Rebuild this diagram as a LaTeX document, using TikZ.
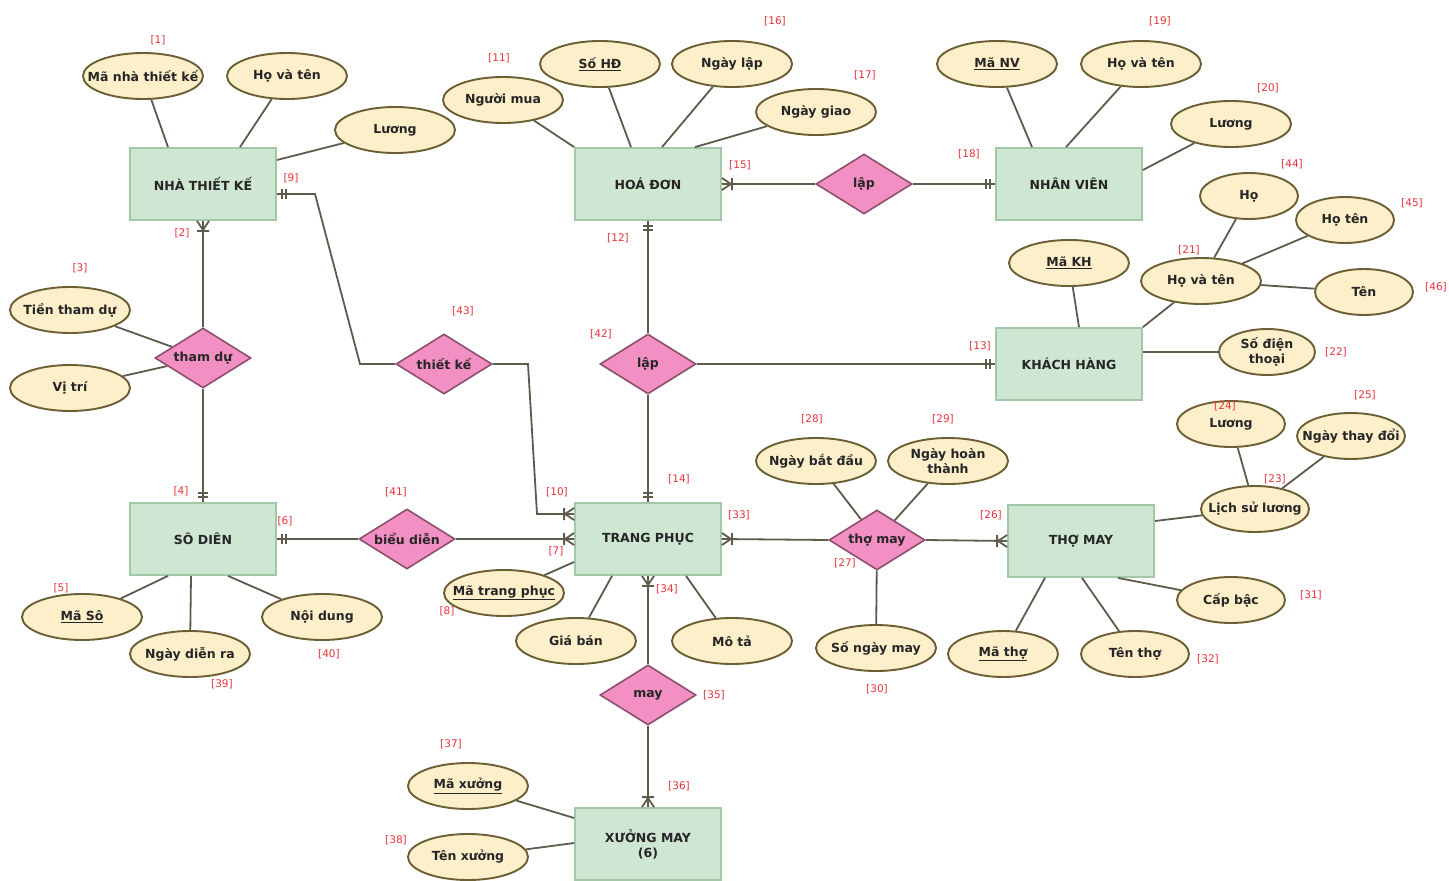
\documentclass[tikz,border=0pt]{standalone}
\usepackage{fontspec}
\setmainfont{DejaVu Sans}
\usetikzlibrary{shapes.geometric,calc}
\definecolor{entfill}{HTML}{CFE6D3}
\definecolor{entdraw}{HTML}{A3C8A8}
\definecolor{relfill}{HTML}{F28FC3}
\definecolor{reldraw}{HTML}{8E4F6C}
\definecolor{attfill}{HTML}{FCEFCA}
\definecolor{attdraw}{HTML}{6B5F33}
\definecolor{linec}{HTML}{5F5B4C}
\definecolor{numc}{HTML}{E8333C}
\newcommand{\mbz}[1]{\makebox[0pt]{#1}}
\begin{document}
\begin{tikzpicture}[x=1pt,y=-1pt,
 ent/.style={draw=entdraw, fill=entfill, line width=1.8pt, minimum width=146pt, minimum height=72pt, inner sep=0, align=center, font=\fontsize{12.5}{15}\selectfont\bfseries, text=black!85},
 rel/.style={diamond, draw=reldraw, fill=relfill, line width=1.6pt, minimum width=96pt, minimum height=60pt, inner sep=0, font=\fontsize{12.5}{15}\selectfont\bfseries, text=black!85},
 att/.style={ellipse, draw=attdraw, fill=attfill, line width=1.9pt, minimum width=120pt, minimum height=46pt, inner sep=0, align=center, font=\fontsize{12.5}{15}\selectfont\bfseries, text=black!85},
 num/.style={font=\fontsize{10.5}{12}\selectfont, text=numc, inner sep=0},
 conn/.style={draw=linec, line width=1.8pt},
 pics/oneone/.style={code={\draw[conn] (5,-5)--(5,5) (9,-5)--(9,5);}},
 pics/onemany/.style={code={\draw[conn] (0,-6)--(9,0)--(0,6) (10,-6)--(10,6);}},
]
\useasboundingbox (0,0) rectangle (1449,881);
\fill[white] (0,0) rectangle (1449,881);

% entities
\node[ent] (ntk) at (203,184) {\mbz{NHÀ THIẾT KẾ}};
\node[ent] (hd) at (648,184) {\mbz{HOÁ ĐƠN}};
\node[ent] (nv) at (1069,184) {\mbz{NHÂN VIÊN}};
\node[ent] (kh) at (1069,364) {\mbz{KHÁCH HÀNG}};
\node[ent] (sd) at (203,539) {\mbz{SÔ DIÊN}};
\node[ent] (tp) at (648,539) {\mbz{TRANG PHỤC}};
\node[ent] (tm) at (1081,541) {\mbz{THỢ MAY}};
\node[ent] (xm) at (648,844) {\mbz{XƯỞNG MAY}\\\mbz{(6)}};

% relationships
\node[rel] (rtd) at (203,358) {\mbz{tham dự}};
\node[rel] (rtk) at (444,364) {\mbz{thiết kế}};
\node[rel] (rlapa) at (864,184) {\mbz{lập}};
\node[rel] (rlapb) at (648,364) {\mbz{lập}};
\node[rel] (rbd) at (407,539) {\mbz{biểu diễn}};
\node[rel] (rtm) at (877,540) {\mbz{thợ may}};
\node[rel] (rmay) at (648,695) {\mbz{may}};

% attributes
\node[att] (amntk) at (143,76) {\mbz{Mã nhà thiết kế}};
\node[att] (ahvta) at (287,76) {\mbz{Họ và tên}};
\node[att] (aluonga) at (395,130) {\mbz{Lương}};
\node[att] (anm) at (503,100) {\mbz{Người mua}};
\node[att] (ashd) at (600,64) {\mbz{\underline{Số HĐ}}};
\node[att] (anl) at (732,64) {\mbz{Ngày lập}};
\node[att] (ang) at (816,112) {\mbz{Ngày giao}};
\node[att] (amnv) at (997,64) {\mbz{\underline{Mã NV}}};
\node[att] (ahvtb) at (1141,64) {\mbz{Họ và tên}};
\node[att] (aluongb) at (1231,124) {\mbz{Lương}};
\node[att, minimum width=98pt] (aho) at (1249,196) {\mbz{Họ}};
\node[att, minimum width=98pt] (ahoten) at (1345,220) {\mbz{Họ tên}};
\node[att] (amkh) at (1069,263) {\mbz{\underline{Mã KH}}};
\node[att] (ahvtc) at (1201,281) {\mbz{Họ và tên}};
\node[att, minimum width=98pt] (aten) at (1364,292) {\mbz{Tên}};
\node[att, minimum width=96pt] (asdt) at (1267,352) {\mbz{Số điện}\\\mbz{thoại}};
\node[att, minimum width=108pt] (aluongc) at (1231,424) {\mbz{Lương}};
\node[att, minimum width=108pt] (antd) at (1351,436) {\mbz{Ngày thay đổi}};
\node[att, minimum width=108pt] (alsl) at (1255,509) {\mbz{Lịch sử lương}};
\node[att, minimum width=108pt] (acb) at (1231,600) {\mbz{Cấp bậc}};
\node[att, minimum width=108pt] (att) at (1135,654) {\mbz{Tên thợ}};
\node[att, minimum width=110pt] (amt) at (1003,654) {\mbz{\underline{Mã thợ}}};
\node[att] (asnm) at (876,648) {\mbz{Số ngày may}};
\node[att] (anbd) at (816,461) {\mbz{Ngày bắt đầu}};
\node[att] (anht) at (948,461) {\mbz{Ngày hoàn}\\\mbz{thành}};
\node[att] (amota) at (732,641) {\mbz{Mô tả}};
\node[att] (agb) at (576,641) {\mbz{Giá bán}};
\node[att] (amtp) at (504,593) {\mbz{\underline{Mã trang phục}}};
\node[att] (attd) at (70,310) {\mbz{Tiền tham dự}};
\node[att] (avt) at (70,388) {\mbz{Vị trí}};
\node[att] (amso) at (82,617) {\mbz{\underline{Mã Sô}}};
\node[att] (andr) at (190,654) {\mbz{Ngày diễn ra}};
\node[att] (and) at (322,617) {\mbz{Nội dung}};
\node[att] (amx) at (468,786) {\mbz{\underline{Mã xưởng}}};
\node[att] (atx) at (468,857) {\mbz{Tên xưởng}};

% attribute lines
\draw[conn] (amntk) -- (ntk.north -| 168,0);
\draw[conn] (ahvta) -- (ntk.north -| 240,0);
\draw[conn] (aluonga) -- (ntk.east |- 0,160);
\draw[conn] (anm) -- (hd.north west);
\draw[conn] (ashd) -- (hd.north -| 631,0);
\draw[conn] (anl) -- (hd.north -| 662,0);
\draw[conn] (ang) -- (hd.north -| 695,0);
\draw[conn] (amnv) -- (nv.north -| 1032,0);
\draw[conn] (ahvtb) -- (nv.north -| 1066,0);
\draw[conn] (aluongb) -- (nv.east |- 0,170);
\draw[conn] (amkh) -- (kh.north -| 1079,0);
\draw[conn] (ahvtc) -- (kh.north east);
\draw[conn] (asdt) -- (kh.east |- 0,352);
\draw[conn] (ahvtc) -- (aho);
\draw[conn] (ahvtc) -- (ahoten);
\draw[conn] (ahvtc) -- (aten);
\draw[conn] (alsl) -- (tm.east |- 0,521);
\draw[conn] (alsl) -- (aluongc);
\draw[conn] (alsl) -- (antd);
\draw[conn] (acb) -- (tm.south -| 1118,0);
\draw[conn] (att) -- (tm.south -| 1082,0);
\draw[conn] (amt) -- (tm.south -| 1045,0);
\draw[conn] (rtm) -- (anbd);
\draw[conn] (rtm) -- (anht);
\draw[conn] (rtm) -- (asnm);
\draw[conn] (amtp) -- (tp.west |- 0,562);
\draw[conn] (agb) -- (tp.south -| 612,0);
\draw[conn] (amota) -- (tp.south -| 686,0);
\draw[conn] (rtd) -- (attd);
\draw[conn] (rtd) -- (avt);
\draw[conn] (amso) -- (sd.south -| 168,0);
\draw[conn] (andr) -- (sd.south -| 191,0);
\draw[conn] (and) -- (sd.south -| 228,0);
\draw[conn] (amx) -- (xm.west |- 0,818);
\draw[conn] (atx) -- (xm.west |- 0,843);

% relationship connectors
\draw[conn] (ntk.south) -- (rtd.north);
\draw[conn] (rtd.south) -- (sd.north);
\draw[conn] (ntk.east |- 0,194) -- (315,194) -- (360,364) -- (rtk.west);
\draw[conn] (rtk.east) -- (528,364) -- (537,514) -- (tp.west |- 0,514);
\draw[conn] (sd.east) -- (rbd.west);
\draw[conn] (rbd.east) -- (tp.west);
\draw[conn] (hd.south) -- (rlapb.north);
\draw[conn] (rlapb.south) -- (tp.north);
\draw[conn] (rlapb.east) -- (kh.west);
\draw[conn] (hd.east) -- (rlapa.west);
\draw[conn] (rlapa.east) -- (nv.west);
\draw[conn] (tp.east) -- (rtm.west);
\draw[conn] (rtm.east) -- (tm.west);
\draw[conn] (tp.south) -- (rmay.north);
\draw[conn] (rmay.south) -- (xm.north);

% cardinality marks
\pic[rotate=-90] at (ntk.south) {onemany};
\pic[rotate=90] at (sd.north) {oneone};
\pic at (ntk.east |- 0,194) {oneone};
\pic[rotate=180] at (tp.west |- 0,514) {onemany};
\pic at (sd.east) {oneone};
\pic[rotate=180] at (tp.west) {onemany};
\pic[rotate=-90] at (hd.south) {oneone};
\pic[rotate=90] at (tp.north) {oneone};
\pic[rotate=180] at (kh.west) {oneone};
\pic at (hd.east) {onemany};
\pic[rotate=180] at (nv.west) {oneone};
\pic at (tp.east) {onemany};
\pic[rotate=180] at (tm.west) {onemany};
\pic[rotate=-90] at (tp.south) {onemany};
\pic[rotate=90] at (xm.north) {onemany};

% numbers
\node[num] (n1) at (158,40) {[1]};
\node[num] (n2) at (182,233) {[2]};
\node[num] (n3) at (80,268) {[3]};
\node[num] (n4) at (181,491) {[4]};
\node[num] (n5) at (61,588) {[5]};
\node[num] (n6) at (285,521) {[6]};
\node[num] (n7) at (556,551) {[7]};
\node[num] (n8) at (447,611) {[8]};
\node[num] (n9) at (291,178) {[9]};
\node[num] (n10) at (557,492) {[10]};
\node[num] (n11) at (499,58) {[11]};
\node[num] (n12) at (618,238) {[12]};
\node[num] (n13) at (980,346) {[13]};
\node[num] (n14) at (679,479) {[14]};
\node[num] (n15) at (740,165) {[15]};
\node[num] (n16) at (775,21) {[16]};
\node[num] (n17) at (865,75) {[17]};
\node[num] (n18) at (969,154) {[18]};
\node[num] (n19) at (1160,21) {[19]};
\node[num] (n20) at (1268,88) {[20]};
\node[num] (n21) at (1189,250) {[21]};
\node[num] (n22) at (1336,352) {[22]};
\node[num] (n23) at (1275,479) {[23]};
\node[num] (n24) at (1225,406) {[24]};
\node[num] (n25) at (1365,395) {[25]};
\node[num] (n26) at (991,515) {[26]};
\node[num] (n27) at (845,563) {[27]};
\node[num] (n28) at (812,419) {[28]};
\node[num] (n29) at (943,419) {[29]};
\node[num] (n30) at (877,689) {[30]};
\node[num] (n31) at (1311,595) {[31]};
\node[num] (n32) at (1208,659) {[32]};
\node[num] (n33) at (739,515) {[33]};
\node[num] (n34) at (667,589) {[34]};
\node[num] (n35) at (714,695) {[35]};
\node[num] (n36) at (679,786) {[36]};
\node[num] (n37) at (451,744) {[37]};
\node[num] (n38) at (396,840) {[38]};
\node[num] (n39) at (222,684) {[39]};
\node[num] (n40) at (329,654) {[40]};
\node[num] (n41) at (396,492) {[41]};
\node[num] (n42) at (601,334) {[42]};
\node[num] (n43) at (463,311) {[43]};
\node[num] (n44) at (1292,164) {[44]};
\node[num] (n45) at (1412,203) {[45]};
\node[num] (n46) at (1436,287) {[46]};
\end{tikzpicture}
\end{document}
